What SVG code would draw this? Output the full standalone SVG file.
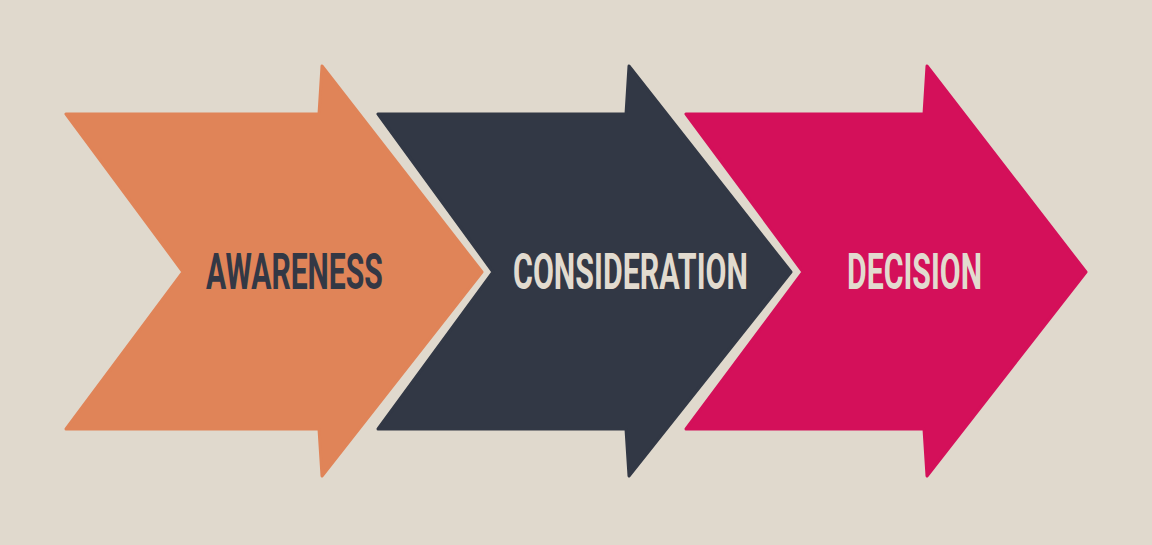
<svg xmlns="http://www.w3.org/2000/svg" width="1152" height="545" viewBox="0 0 1152 545">
<style>
.arrow{stroke-width:3;stroke-linejoin:round}
.a1{fill:#e08458;stroke:#e08458}
.a2{fill:#323845;stroke:#323845}
.a3{fill:#d4105a;stroke:#d4105a}
.lbl{font-family:Roboto,"Liberation Sans",sans-serif;font-weight:700;font-size:50px}
.dark{fill:#333845}
.light{fill:#e2dbcf}
</style>
<rect x="0" y="0" width="1152" height="545" fill="#e0d9cd"/>
<g id="awareness">
<polygon class="arrow a1" points="66,114 319,114 322,66 482,272 322,476 319,429 66,429 183,272"/>
<text class="lbl dark" transform="translate(206,289) scale(0.65,1)" x="0" y="0" textLength="272" lengthAdjust="spacingAndGlyphs">AWARENESS</text>
</g>
<g id="consideration">
<polygon class="arrow a2" points="378,114 626,114 629,66 791,272 629,476 626,429 378,429 493,272"/>
<text class="lbl light" transform="translate(513,289) scale(0.65,1)" x="0" y="0" textLength="361.5" lengthAdjust="spacingAndGlyphs">CONSIDERATION</text>
</g>
<g id="decision">
<polygon class="arrow a3" points="686,114 924,114 927,66 1086,272 927,476 924,429 686,429 803,272"/>
<text class="lbl light" transform="translate(847,289) scale(0.65,1)" x="0" y="0" textLength="207.7" lengthAdjust="spacingAndGlyphs">DECISION</text>
</g>
<g id="connectors"></g>
</svg>
